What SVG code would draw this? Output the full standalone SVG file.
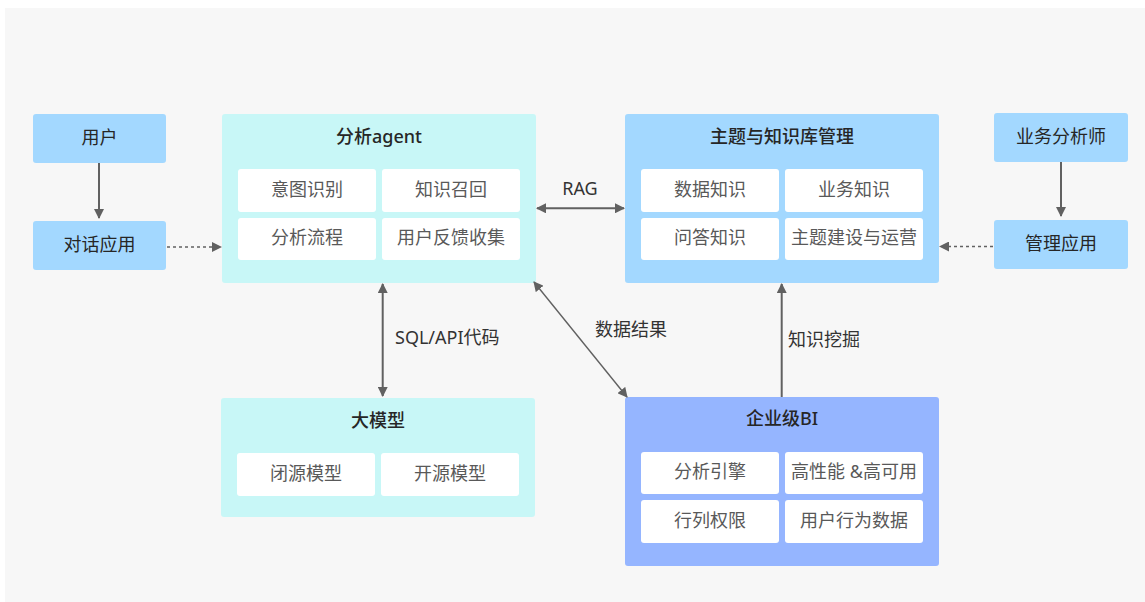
<svg xmlns="http://www.w3.org/2000/svg" width="1145" height="602" viewBox="0 0 1145 602">
<defs>
<style>
.bg{fill:#f7f7f7}
.blue{fill:#a3d8ff}
.cyan{fill:#c8f7f7}
.bi{fill:#95b5ff}
.cell{fill:#ffffff}
.t{font-family:"Noto Sans","Noto Sans CJK SC",sans-serif;font-size:18px;fill:#262626;text-anchor:middle;dominant-baseline:central}
.tb{font-weight:500}
.c{fill:#595959}
.lbl{font-family:"Noto Sans","Noto Sans CJK SC",sans-serif;font-size:18px;fill:#333333;dominant-baseline:central}
.ln{stroke:#616161;stroke-width:2;fill:none}
.ln1{stroke:#616161;stroke-width:1.4;fill:none}
.dash{stroke:#616161;stroke-width:1.6;fill:none;stroke-dasharray:3 3}
</style>
<marker id="ah" viewBox="0 0 10 10" refX="9" refY="5" markerWidth="10" markerHeight="10" markerUnits="userSpaceOnUse" orient="auto-start-reverse">
<path d="M0,0 L10,5 L0,10 z" fill="#616161"/>
</marker>
</defs>
<rect class="bg" x="5" y="8" width="1140" height="594"/>

<g id="user">
<rect class="blue" x="33" y="114" width="133" height="49" rx="3"/>
<text class="t" x="99.5" y="136.5">用户</text>
</g>
<g id="chat-app">
<rect class="blue" x="33" y="221" width="133" height="49" rx="3"/>
<text class="t" x="99.5" y="243.5">对话应用</text>
</g>

<g id="agent">
<rect class="cyan" x="222" y="114" width="314" height="169" rx="3"/>
<text class="t tb" x="379" y="136">分析agent</text>
<rect class="cell" x="238" y="169" width="138" height="43" rx="3"/>
<text class="t c" x="307" y="188.5">意图识别</text>
<rect class="cell" x="382" y="169" width="138" height="43" rx="3"/>
<text class="t c" x="451" y="188.5">知识召回</text>
<rect class="cell" x="238" y="218" width="138" height="42" rx="3"/>
<text class="t c" x="307" y="237">分析流程</text>
<rect class="cell" x="382" y="218" width="138" height="42" rx="3"/>
<text class="t c" x="451" y="237">用户反馈收集</text>
</g>

<g id="knowledge">
<rect class="blue" x="625" y="114" width="314" height="169" rx="3"/>
<text class="t tb" x="782" y="136">主题与知识库管理</text>
<rect class="cell" x="641" y="169" width="138" height="43" rx="3"/>
<text class="t c" x="710" y="188.5">数据知识</text>
<rect class="cell" x="785" y="169" width="138" height="43" rx="3"/>
<text class="t c" x="854" y="188.5">业务知识</text>
<rect class="cell" x="641" y="218" width="138" height="42" rx="3"/>
<text class="t c" x="710" y="237">问答知识</text>
<rect class="cell" x="785" y="218" width="138" height="42" rx="3"/>
<text class="t c" x="854" y="237">主题建设与运营</text>
</g>

<g id="analyst">
<rect class="blue" x="994" y="113" width="134" height="49" rx="3"/>
<text class="t" x="1061" y="135.5">业务分析师</text>
</g>
<g id="mgmt-app">
<rect class="blue" x="994" y="220" width="134" height="49" rx="3"/>
<text class="t" x="1061" y="242.5">管理应用</text>
</g>

<g id="llm">
<rect class="cyan" x="221" y="398" width="314" height="119" rx="3"/>
<text class="t tb" x="378" y="420">大模型</text>
<rect class="cell" x="237" y="453" width="138" height="43" rx="3"/>
<text class="t c" x="306" y="472.5">闭源模型</text>
<rect class="cell" x="381" y="453" width="138" height="43" rx="3"/>
<text class="t c" x="450" y="472.5">开源模型</text>
</g>

<g id="bi">
<rect class="bi" x="625" y="397" width="314" height="169" rx="3"/>
<text class="t tb" x="782" y="418">企业级BI</text>
<rect class="cell" x="641" y="452" width="138" height="42" rx="3"/>
<text class="t c" x="710" y="471">分析引擎</text>
<rect class="cell" x="785" y="452" width="138" height="42" rx="3"/>
<text class="t c" x="854" y="471">高性能 &amp;高可用</text>
<rect class="cell" x="641" y="500" width="138" height="43" rx="3"/>
<text class="t c" x="710" y="519.5">行列权限</text>
<rect class="cell" x="785" y="500" width="138" height="43" rx="3"/>
<text class="t c" x="854" y="519.5">用户行为数据</text>
</g>

<g id="connectors">
<line class="ln" x1="99" y1="163" x2="99" y2="218" marker-end="url(#ah)"/>
<line class="dash" x1="167" y1="247" x2="221" y2="247" marker-end="url(#ah)"/>
<line class="ln" x1="1061" y1="162" x2="1061" y2="216" marker-end="url(#ah)"/>
<line class="dash" x1="993" y1="246.5" x2="940" y2="246.5" marker-end="url(#ah)"/>
<line class="ln" x1="537" y1="208.3" x2="624" y2="208.3" marker-start="url(#ah)" marker-end="url(#ah)"/>
<text class="lbl" x="580" y="188" text-anchor="middle">RAG</text>
<line class="ln" x1="382.7" y1="284" x2="382.7" y2="396" marker-start="url(#ah)" marker-end="url(#ah)"/>
<text class="lbl" x="395" y="337">SQL/API代码</text>
<line class="ln1" x1="534" y1="282" x2="627" y2="397" marker-start="url(#ah)" marker-end="url(#ah)"/>
<text class="lbl" x="595" y="329">数据结果</text>
<line class="ln" x1="781.7" y1="397" x2="781.7" y2="284" marker-end="url(#ah)"/>
<text class="lbl" x="788" y="339">知识挖掘</text>
</g>
</svg>
